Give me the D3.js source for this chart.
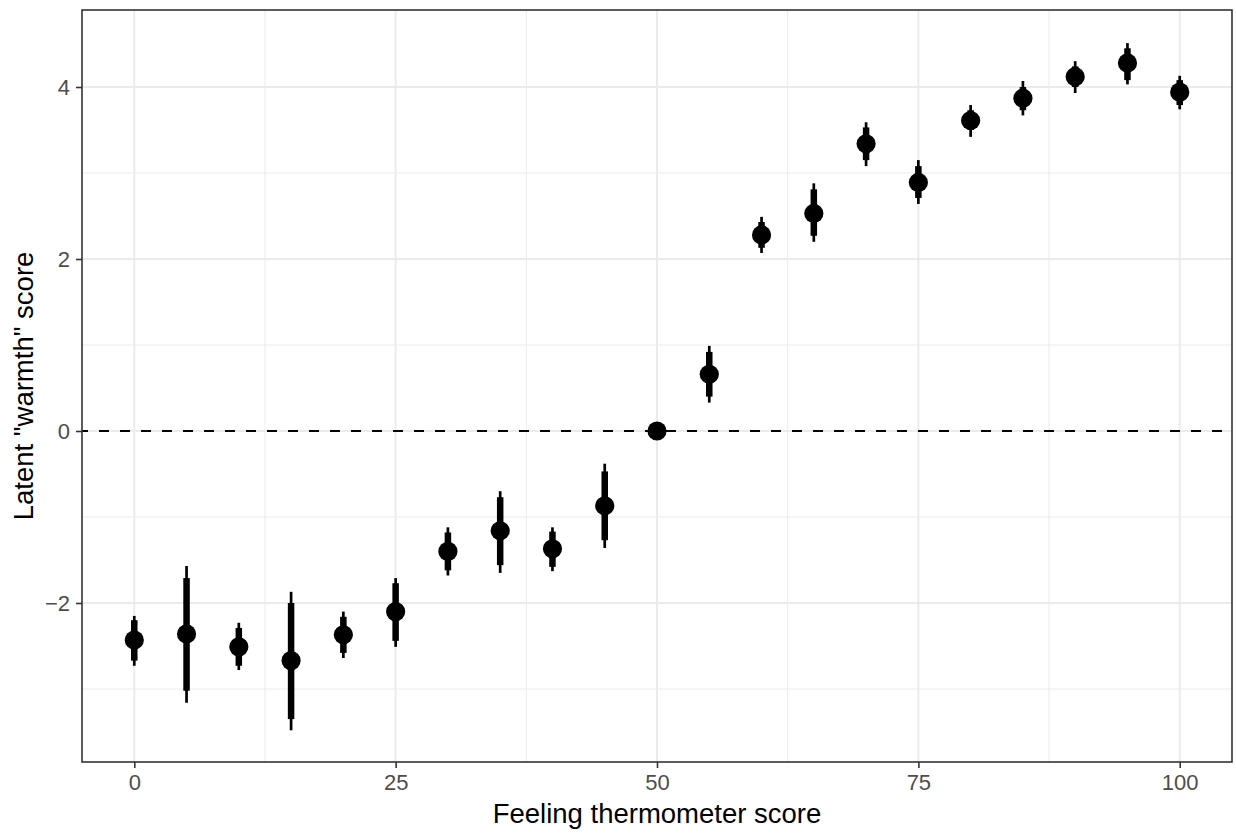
<!DOCTYPE html>
<html>
<head>
<meta charset="utf-8">
<script src="https://cdn.jsdelivr.net/npm/d3@7"></script>
<style>
  html, body { margin: 0; padding: 0; background: #fff; }
  svg { display: block; }
</style>
</head>
<body>
<svg id="chart" width="1236" height="833"></svg>
<script>
// Data
const scores    = [0, 5, 10, 15, 20, 25, 30, 35, 40, 45, 50, 55, 60, 65, 70, 75, 80, 85, 90, 95, 100];
const estimate  = [-2.43, -2.36, -2.51, -2.67, -2.37, -2.10, -1.40, -1.16, -1.37, -0.87, 0.00, 0.66, 2.28, 2.53, 3.34, 2.89, 3.61, 3.87, 4.12, 4.28, 3.94];
const innerLow  = [-2.67, -3.02, -2.73, -3.35, -2.58, -2.44, -1.62, -1.56, -1.58, -1.27, 0.00, 0.40, 2.13, 2.27, 3.15, 2.71, 3.50, 3.73, 4.00, 4.08, 3.79];
const innerHigh = [-2.20, -1.71, -2.29, -2.00, -2.16, -1.77, -1.18, -0.77, -1.17, -0.47, 0.00, 0.92, 2.43, 2.81, 3.53, 3.08, 3.73, 4.00, 4.24, 4.45, 4.08];
const outerLow  = [-2.73, -3.16, -2.78, -3.48, -2.64, -2.51, -1.68, -1.65, -1.63, -1.36, 0.00, 0.33, 2.07, 2.20, 3.08, 2.64, 3.42, 3.67, 3.93, 4.03, 3.74];
const outerHigh = [-2.15, -1.57, -2.23, -1.87, -2.10, -1.71, -1.12, -0.70, -1.12, -0.38, 0.00, 0.99, 2.49, 2.88, 3.59, 3.15, 3.79, 4.07, 4.30, 4.51, 4.13];
const xTicks = [0, 25, 50, 75, 100];
const xMinor = [12.5, 37.5, 62.5, 87.5];
const yTicks = [-2, 0, 2, 4];
const yMinor = [-3, -1, 1, 3];
const xTitle = "Feeling thermometer score";
const yTitle = 'Latent "warmth" score';

const data = scores.map((s, i) => ({
  x: s, y: estimate[i], il: innerLow[i], ih: innerHigh[i], ol: outerLow[i], oh: outerHigh[i]
}));

const svg = d3.select("#chart");
const P = { left: 82, right: 1232, top: 10, bottom: 762 };

const x = d3.scaleLinear().domain([-5, 105]).range([P.left, P.right]);
const y = d3.scaleLinear().range([P.bottom, P.top])
  .domain([(431 - P.bottom) / 86, (431 - P.top) / 86]);

const font = "'Liberation Sans', Arial, Helvetica, sans-serif";

// panel background
svg.append("rect").attr("x", P.left).attr("y", P.top)
  .attr("width", P.right - P.left).attr("height", P.bottom - P.top).attr("fill", "#fff");

const grid = svg.append("g");
grid.selectAll(".xminor").data(xMinor).join("line")
  .attr("x1", d => x(d)).attr("x2", d => x(d)).attr("y1", P.top).attr("y2", P.bottom)
  .attr("stroke", "#EBEBEB").attr("stroke-width", 1);
grid.selectAll(".yminor").data(yMinor).join("line")
  .attr("x1", P.left).attr("x2", P.right).attr("y1", d => y(d)).attr("y2", d => y(d))
  .attr("stroke", "#EBEBEB").attr("stroke-width", 1);
grid.selectAll(".xmajor").data(xTicks).join("line")
  .attr("x1", d => x(d)).attr("x2", d => x(d)).attr("y1", P.top).attr("y2", P.bottom)
  .attr("stroke", "#EBEBEB").attr("stroke-width", 2);
grid.selectAll(".ymajor").data(yTicks).join("line")
  .attr("x1", P.left).attr("x2", P.right).attr("y1", d => y(d)).attr("y2", d => y(d))
  .attr("stroke", "#EBEBEB").attr("stroke-width", 2);

// dashed zero line
svg.append("line")
  .attr("x1", P.left).attr("x2", P.right).attr("y1", y(0)).attr("y2", y(0))
  .attr("stroke", "#000").attr("stroke-width", 2).attr("stroke-dasharray", "10,11")
  .attr("stroke-dashoffset", 4);

const marks = svg.append("g");
marks.selectAll(".outer").data(data.filter(d => d.oh > d.ol)).join("line")
  .attr("x1", d => x(d.x)).attr("x2", d => x(d.x))
  .attr("y1", d => y(d.ol)).attr("y2", d => y(d.oh))
  .attr("stroke", "#000").attr("stroke-width", 2.7);
marks.selectAll(".inner").data(data.filter(d => d.ih > d.il)).join("line")
  .attr("x1", d => x(d.x)).attr("x2", d => x(d.x))
  .attr("y1", d => y(d.il)).attr("y2", d => y(d.ih))
  .attr("stroke", "#000").attr("stroke-width", 6.5);
marks.selectAll("circle").data(data).join("circle")
  .attr("cx", d => x(d.x)).attr("cy", d => y(d.y)).attr("r", 9.6).attr("fill", "#000");

// panel border
svg.append("rect").attr("x", P.left).attr("y", P.top)
  .attr("width", P.right - P.left).attr("height", P.bottom - P.top)
  .attr("fill", "none").attr("stroke", "#333333").attr("stroke-width", 1.6);

// axes
const xAxis = svg.append("g").attr("transform", `translate(0,${P.bottom})`)
  .call(d3.axisBottom(x).tickValues(xTicks).tickSize(6).tickPadding(6).tickFormat(d3.format("d")));
const yAxis = svg.append("g").attr("transform", `translate(${P.left},0)`)
  .call(d3.axisLeft(y).tickValues(yTicks).tickSize(6).tickPadding(6)
    .tickFormat(d => d < 0 ? "\u2212" + Math.abs(d) : String(d)));
[xAxis, yAxis].forEach(g => {
  g.select(".domain").remove();
  g.attr("font-family", font).attr("font-size", 22);
  g.selectAll(".tick line").attr("stroke", "#333333").attr("stroke-width", 1.6);
  g.selectAll(".tick text").attr("fill", "#4D4D4D");
});

// titles
svg.append("text").attr("x", (P.left + P.right) / 2).attr("y", 823)
  .attr("text-anchor", "middle").attr("font-family", font).attr("font-size", 27.5)
  .attr("fill", "#000").text(xTitle);
svg.append("text").attr("transform", `translate(33,${(P.top + P.bottom) / 2}) rotate(-90)`)
  .attr("text-anchor", "middle").attr("font-family", font).attr("font-size", 27.5)
  .attr("fill", "#000").text(yTitle);
</script>
</body>
</html>
